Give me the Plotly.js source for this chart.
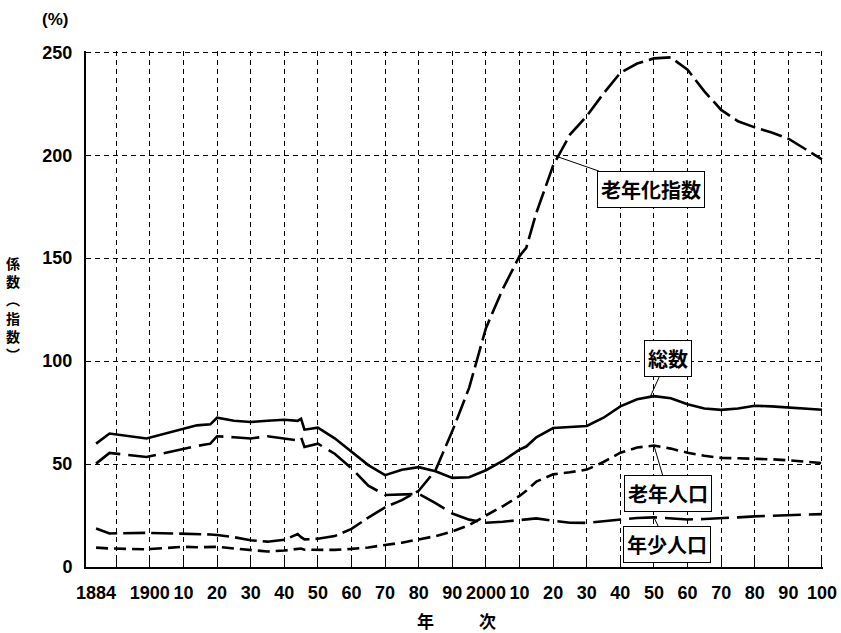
<!DOCTYPE html>
<html><head><meta charset="utf-8">
<script src="https://cdn.plot.ly/plotly-3.0.1.min.js"></script>
<style>html,body{margin:0;padding:0;background:#fff}#chart{width:841px;height:633px}</style>
</head><body><div id="chart"></div>
<script>
const years = [1884,1888,1899,1910,1914,1918,1920,1925,1930,1935,1940,1944,1945,1946,1950,1955,1960,1965,1970,1975,1980,1985,1990,1995,2000,2005,2010,2012,2015,2020,2025,2030,2035,2040,2045,2050,2055,2060,2065,2070,2075,2080,2085,2090,2095,2100];
const totalRatio = [59.9,64.8,62.4,67.2,68.8,69.3,72.5,71,70.4,71,71.5,71,72,66.7,67.7,62.5,56,49.5,44.6,47.2,48.5,46.5,43.3,43.6,47,51.5,57,58.5,63,67.5,68,68.5,72.5,78,81.5,83,82,79,77,76.3,77,78.3,78,77.5,77,76.4];
const youthRatio = [50.2,55.4,53.4,57.5,58.8,59.9,63.5,63,62.4,63.5,62.5,61.5,63,58.3,59.9,55,48,39.5,35,35.3,35.5,31,26,23,21.5,22,22.8,23.2,23.6,22.5,21.5,21.4,22.2,23.2,23.8,24.1,23.6,23.1,23.3,23.6,24.1,24.6,24.9,25.2,25.5,25.7];
const elderlyRatio = [9.4,9,8.6,9.8,9.6,9.6,9.8,9,8.2,7.5,8,8.8,9,8.4,8.2,8.3,8.8,9.5,10.7,11.8,13.4,15,17.3,20.3,25,29.5,34.5,37,41.5,45,46,47.3,51,55.5,58,59,57.5,55.5,54,53,52.8,52.7,52.3,51.8,51.2,50.5];
const agingIndex = [18.7,16.3,16.6,16.3,16,15.8,15.5,14.5,13,12.3,13.2,16,14.5,13.4,13.7,15,18.5,24,29,32.5,37,47,66,87,116,135,151,155,172,195,210,219,230,240,244.5,247,247.5,241.5,231,222,216.5,213.5,211,208,203,198];

const xTickVals = [1884,1900,1910,1920,1930,1940,1950,1960,1970,1980,1990,2000,2010,2020,2030,2040,2050,2060,2070,2080,2090,2100];
const xTickText = ['1884','1900','10','20','30','40','50','60','70','80','90','2000','10','20','30','40','50','60','70','80','90','100'];
const xGridVals = [1890,1900,1910,1920,1930,1940,1950,1960,1970,1980,1990,2000,2010,2020,2030,2040,2050,2060,2070,2080,2090,2100];
const yTickVals = [0,50,100,150,200,250];

const seriesNames = ['総数','年少人口','老年人口','老年化指数'];
const yTitleChars = ['係','数','︵','指','数','︶'];

const numFont = {family:'"Liberation Sans", Arial, sans-serif', size:18, color:'#000', weight:'bold'};
const jpFont = {family:'"Noto Sans CJK JP", "Noto Sans CJK SC", sans-serif', size:20, color:'#000', weight:'bold'};

const M = {l:86, r:18, t:51, b:66};
const plotW = 841 - M.l - M.r, plotH = 633 - M.t - M.b;
const px2paperX = p => (p - M.l) / plotW;
const px2paperY = p => (633 - M.b - p) / plotH;

const traces = [
  {x: years, y: totalRatio, name: seriesNames[0], mode:'lines', xaxis:'x2', line:{color:'#000', width:2.6}},
  {x: years, y: youthRatio, name: seriesNames[1], mode:'lines', line:{color:'#000', width:2.6, dash:'28px,8px'}},
  {x: years, y: elderlyRatio, name: seriesNames[2], mode:'lines', line:{color:'#000', width:2.6, dash:'12px,6px'}},
  {x: years, y: agingIndex, name: seriesNames[3], mode:'lines', line:{color:'#000', width:2.6, dash:'22px,6px'}}
];

const callout = {showarrow:true, arrowhead:0, arrowwidth:1, arrowcolor:'#000', font:jpFont, bgcolor:'#fff', bordercolor:'#000', borderwidth:1, borderpad:3, xanchor:'center', yanchor:'middle'};
const annotations = [
  Object.assign({xref:'x', yref:'y', x:2020, y:200, ax:98, ay:34, text:seriesNames[3]}, callout),
  Object.assign({xref:'x', yref:'y', x:2049, y:83, ax:17, ay:-38, text:seriesNames[0]}, callout),
  Object.assign({xref:'x', yref:'y', x:2050, y:59, ax:14, ay:48, text:seriesNames[2]}, callout),
  Object.assign({xref:'x', yref:'y', x:2050, y:24.1, ax:13, ay:27, text:seriesNames[1]}, callout),
  {xref:'paper', yref:'paper', x:px2paperX(55), y:px2paperY(20), xanchor:'center', yanchor:'middle', text:'(%)', showarrow:false, font:Object.assign({}, numFont, {size:17})},
  {xref:'paper', yref:'paper', x:px2paperX(425), y:px2paperY(620), xanchor:'center', yanchor:'middle', text:'年', showarrow:false, font:Object.assign({}, jpFont, {size:17})},
  {xref:'paper', yref:'paper', x:px2paperX(488), y:px2paperY(620), xanchor:'center', yanchor:'middle', text:'次', showarrow:false, font:Object.assign({}, jpFont, {size:17})},
  {xref:'paper', yref:'paper', x:px2paperX(13), y:px2paperY(308), xanchor:'center', yanchor:'middle', align:'center', text:yTitleChars.join('<br>'), showarrow:false, font:Object.assign({}, jpFont, {size:14})}
];

const gridStyle = {gridcolor:'#000', gridwidth:1, griddash:'5px,4px'};

const layout = {
  width:841, height:633, margin:M,
  paper_bgcolor:'#fff', plot_bgcolor:'#fff',
  showlegend:false,
  xaxis: {range:[1881, 2100.3], tickmode:'array', tickvals:xTickVals, ticktext:xTickText, showgrid:false, zeroline:false,
          showline:true, linecolor:'#000', linewidth:2, ticks:'', tickfont:numFont, ticklabelstandoff:8},
  xaxis2: Object.assign({overlaying:'x', anchor:'y', side:'bottom', range:[1881, 2100.3], tickmode:'array', tickvals:xGridVals,
          showticklabels:false, showgrid:true, zeroline:false, showline:false, ticks:'inside', ticklen:7, tickcolor:'#000', tickwidth:1}, gridStyle),
  yaxis: Object.assign({range:[0, 250.6], tickmode:'array', tickvals:yTickVals, showgrid:true, zeroline:false,
          showline:true, linecolor:'#000', linewidth:2, ticks:'', tickfont:numFont, ticklabelstandoff:8}, gridStyle),
  annotations: annotations
};

Plotly.newPlot('chart', traces, layout, {displayModeBar:false, staticPlot:true});
</script>
</body></html>
